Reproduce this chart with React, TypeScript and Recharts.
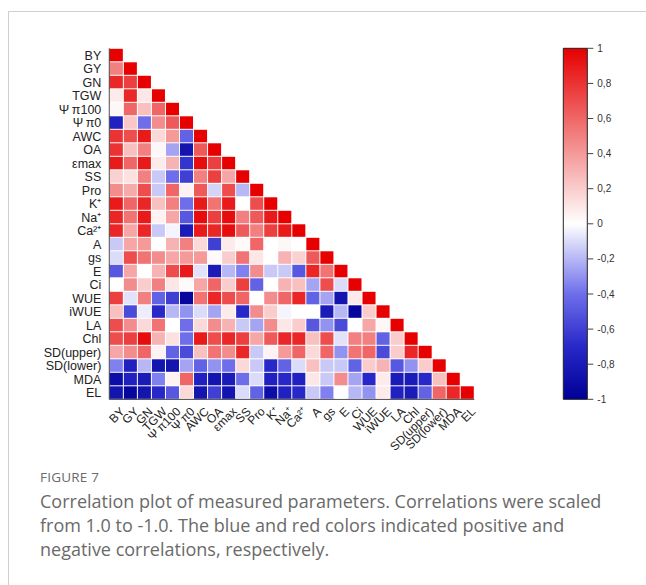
import React from 'react';
import { ScatterChart, Scatter, XAxis, YAxis, ReferenceArea } from 'recharts';

// ---- data ----
const variables = ['BY', 'GY', 'GN', 'TGW', 'Ψ\u2009π100', 'Ψ\u2009π0', 'AWC', 'OA', 'εmax', 'SS', 'Pro', 'K⁺', 'Na⁺', 'Ca²⁺', 'A', 'gs', 'E', 'Ci', 'WUE', 'iWUE', 'LA', 'Chl', 'SD(upper)', 'SD(lower)', 'MDA', 'EL'];

const rBY = [1];
const rGY = [0.5, 1];
const rGN = [0.85, 0.75, 1];
const rTGW = [0.08, 0.85, 0.1, 1];
const rPsi100 = [0.03, 0.6, 0.25, 0.6, 1];
const rPsi0 = [-0.75, 0.22, -0.4, 0.45, 0.65, 1];
const rAWC = [0.8, 0.7, 0.9, 0.15, 0.4, -0.45, 1];
const rOA = [0.8, 0.25, 0.5, 0.03, -0.25, -0.85, 0.65, 1];
const rEmax = [0.9, 0.6, 0.9, 0.08, 0.3, -0.65, 0.95, 0.75, 1];
const rSS = [0.18, 0.12, 0.5, -0.15, -0.4, -0.6, 0.5, 0.75, 0.35, 1];
const rPro = [0.45, 0.33, 0.7, -0.15, 0.6, 0.05, 0.65, -0.12, 0.7, -0.2, 1];
const rK = [0.9, 0.6, 0.85, 0.25, 0.5, -0.4, 0.9, 0.55, 0.9, 0, 0.7, 1];
const rNa = [0.85, 0.55, 0.9, 0.05, 0.35, -0.5, 0.95, 0.75, 0.95, 0.5, 0.65, 0.9, 1];
const rCa = [0.85, 0.35, 0.85, -0.15, -0.03, -0.8, 0.9, 0.85, 0.95, 0.65, 0.5, 0.75, 0.9, 1];
const rA = [-0.15, 0.35, 0.4, 0, 0.3, 0.5, 0.15, -0.6, 0.08, 0.02, 0.6, 0, 0.03, 0, 1];
const rGs = [-0.1, 0.7, 0.55, 0.45, 0.35, 0.4, 0.4, 0.02, 0.2, 0.55, 0.1, 0, 0.3, 0.18, 0.65, 1];
const rE = [-0.5, 0.35, 0, 0.3, 0.7, 0.9, -0.08, -0.8, -0.2, -0.35, 0.45, -0.15, -0.15, -0.5, 0.85, 0.55, 1];
const rCi = [0, 0.45, 0.2, 0.5, 0.1, 0.02, 0.35, 0.6, 0.2, 0.75, -0.45, 0, 0.3, 0.25, -0.25, 0.7, -0.1, 1];
const rWUE = [0.75, -0.08, 0.5, -0.45, -0.6, -0.95, 0.55, 0.85, 0.7, 0.6, 0, 0.45, 0.6, 0.85, -0.45, -0.25, -0.85, 0.08, 1];
const riWUE = [0.25, -0.55, -0.05, -0.7, -0.2, -0.3, -0.1, -0.25, 0.08, -0.7, 0.45, 0.2, -0.03, 0, 0, -0.8, -0.2, -0.95, 0.2, 1];
const rLA = [0.7, 0.45, 0.15, 0.55, 0, -0.4, 0.15, 0.45, 0.3, -0.15, -0.25, 0.45, 0.1, 0.2, -0.5, -0.3, -0.55, 0, 0.35, 0.03, 1];
const rChl = [0.7, 0.75, 0.95, 0.3, 0.12, -0.4, 0.9, 0.7, 0.85, 0.75, 0.35, 0.65, 0.85, 0.85, 0.25, 0.7, -0.08, 0.5, 0.5, -0.45, 0.2, 1];
const rSDu = [0.35, 0.45, 0.6, 0.05, -0.45, -0.55, 0.25, 0.55, 0.45, 0.85, -0.15, 0.05, 0.4, 0.6, 0.15, 0.6, -0.3, 0.55, 0.6, -0.55, 0.2, 0.85, 1];
const rSDl = [-0.35, -0.75, -0.2, -0.85, -0.85, -0.25, -0.45, -0.3, -0.4, 0.15, -0.15, -0.7, -0.45, -0.1, 0.25, -0.15, -0.15, -0.45, 0.2, 0.3, -0.5, -0.3, 0.2, 1];
const rMDA = [-0.9, -0.75, -0.8, -0.35, 0.05, 0.6, -0.75, -0.85, -0.8, -0.4, -0.1, -0.75, -0.7, -0.75, 0.1, -0.15, 0.45, -0.25, -0.7, 0.08, -0.8, -0.8, -0.7, 0.25, 1];
const rEL = [-0.85, -0.95, -0.85, -0.7, -0.5, 0.15, -0.85, -0.6, -0.85, -0.1, -0.45, -0.9, -0.75, -0.7, -0.15, -0.35, 0, -0.2, -0.3, 0.08, -0.75, -0.8, -0.45, 0.6, 0.85, 1];

const corrRows = [rBY, rGY, rGN, rTGW, rPsi100, rPsi0, rAWC, rOA, rEmax, rSS, rPro, rK, rNa, rCa, rA, rGs, rE, rCi, rWUE, riWUE, rLA, rChl, rSDu, rSDl, rMDA, rEL];

const cbarTicks = [-1, -0.8, -0.6, -0.4, -0.2, 0, 0.2, 0.4, 0.6, 0.8, 1];
const cbarTickLabels = ['-1', '-0,8', '-0,6', '-0,4', '-0,2', '0', '0,2', '0,4', '0,6', '0,8', '1'];

// ---- colour scale ----
const colorStops: [number, number[]][] = [
  [-1, [0, 0, 150]],
  [-0.7, [40, 40, 200]],
  [-0.4, [110, 110, 235]],
  [0, [255, 255, 255]],
  [0.5, [242, 128, 128]],
  [1, [230, 0, 0]],
];
function cellColor(v: number): string {
  for (let i = 0; i < colorStops.length - 1; i++) {
    const [a, ca] = colorStops[i];
    const [b, cb] = colorStops[i + 1];
    if (v >= a && v <= b) {
      const t = (v - a) / (b - a);
      const c = ca.map((x, k) => Math.round(x + (cb[k] - x) * t));
      return `rgb(${c[0]},${c[1]},${c[2]})`;
    }
  }
  return v < 0 ? 'rgb(0,0,150)' : 'rgb(230,0,0)';
}

// ---- layout ----
const W = 646;
const H = 585;
const PLOT_LEFT = 109.3;
const PLOT_TOP = 48.3;
const PLOT_RIGHT = 474.3;
const PLOT_BOTTOM = 399.3;
const N = variables.length;
const CW = (PLOT_RIGHT - PLOT_LEFT) / N;
const CH = (PLOT_BOTTOM - PLOT_TOP) / N;
const idx = variables.map((_, i) => i);

const cells = corrRows.flatMap((row, r) => row.map((v, c) => ({ x: c, y: r, v })));

const FONT = '"Liberation Sans", Arial, sans-serif';

const CellShape = (props: any) => {
  const { cx, cy, payload } = props;
  if (cx == null || cy == null) return <g />;
  return (
    <rect
      x={cx - CW / 2 + 0.5}
      y={cy - CH / 2 + 0.5}
      width={CW - 1}
      height={CH - 1}
      fill={cellColor(payload.v)}
    />
  );
};

const XTick = (props: any) => {
  const { x, y, payload } = props;
  const px = x + 9;
  const py = y + 5;
  return (
    <text x={px} y={py} transform={`rotate(-45 ${px} ${py})`} textAnchor="end" fontSize={12} fontFamily={FONT} fill="#222">
      {variables[payload.value]}
    </text>
  );
};

const YTick = (props: any) => {
  const { x, y, payload } = props;
  return (
    <text x={x} y={y} dy="0.36em" textAnchor="end" fontSize={12.5} fontFamily={FONT} fill="#222">
      {variables[payload.value]}
    </text>
  );
};

const CB_LEFT = 563.3;
const CB_W = 24;

export default function App() {
  return (
    <div style={{ position: 'absolute', left: 0, top: 0, width: W, height: H, overflow: 'hidden', background: '#fff' }}>
      <div style={{ position: 'absolute', left: 8, top: 11, width: W, height: H, borderLeft: '1px solid #cfcfcf', borderTop: '1px solid #cfcfcf' }} />
      <div style={{ position: 'absolute', left: 0, top: 0 }}>
        <ScatterChart
          width={W}
          height={H}
          margin={{ top: PLOT_TOP, right: W - PLOT_RIGHT, bottom: 0, left: 0 }}
        >
          <XAxis
            type="number"
            dataKey="x"
            domain={[-0.5, N - 0.5]}
            ticks={idx}
            interval={0}
            height={H - PLOT_BOTTOM}
            tick={<XTick />}
            tickLine={false}
            axisLine={{ stroke: '#333' }}
          />
          <YAxis
            type="number"
            dataKey="y"
            domain={[-0.5, N - 0.5]}
            reversed
            ticks={idx}
            interval={0}
            width={PLOT_LEFT}
            tick={<YTick />}
            tickLine={false}
            axisLine={{ stroke: '#333' }}
          />
          <Scatter data={cells} shape={CellShape} isAnimationActive={false} />
        </ScatterChart>
      </div>
      <div style={{ position: 'absolute', left: 540, top: 0 }}>
        <ScatterChart
          width={106}
          height={H}
          margin={{ top: PLOT_TOP, right: 0, bottom: H - PLOT_BOTTOM, left: CB_LEFT - 540 }}
        >
          <defs>
            <linearGradient id="cbarGrad" x1="0" y1="0" x2="0" y2="1">
              {colorStops.slice().reverse().map(([v]) => (
                <stop key={v} offset={`${((1 - v) / 2) * 100}%`} stopColor={cellColor(v)} />
              ))}
            </linearGradient>
          </defs>
          <XAxis type="number" dataKey="x" domain={[0, 1]} hide />
          <YAxis
            type="number"
            dataKey="y"
            orientation="right"
            domain={[-1, 1]}
            ticks={cbarTicks}
            interval={0}
            width={106 - (CB_LEFT - 540) - CB_W}
            tickFormatter={(v: number) => cbarTickLabels[cbarTicks.findIndex((t) => Math.abs(t - v) < 1e-6)]}
            tick={{ fontSize: 10, fill: '#333', fontFamily: FONT, textAnchor: 'start' }}
            tickSize={6}
            tickMargin={4}
            tickLine={{ stroke: '#444' }}
            axisLine={false}
          />
          <ReferenceArea x1={0} x2={1} y1={-1} y2={1} fill="url(#cbarGrad)" fillOpacity={1} stroke="#222" strokeWidth={1} ifOverflow="visible" />
          <Scatter data={[{ x: 0, y: -1 }, { x: 1, y: 1 }]} shape={() => <g />} isAnimationActive={false} />
        </ScatterChart>
      </div>
      <div style={{ position: 'absolute', left: 40, top: 468, fontFamily: '"Open Sans", sans-serif', fontSize: 13.5, color: '#6a6a6a', letterSpacing: 0.2 }}>
        FIGURE 7
      </div>
      <div style={{ position: 'absolute', left: 40, top: 489, width: 600, fontFamily: '"Open Sans", sans-serif', fontSize: 18, lineHeight: '24px', color: '#6a6a6a', whiteSpace: 'nowrap' }}>
        Correlation plot of measured parameters. Correlations were scaled<br />
        from 1.0 to -1.0. The blue and red colors indicated positive and<br />
        negative correlations, respectively.
      </div>
    </div>
  );
}
